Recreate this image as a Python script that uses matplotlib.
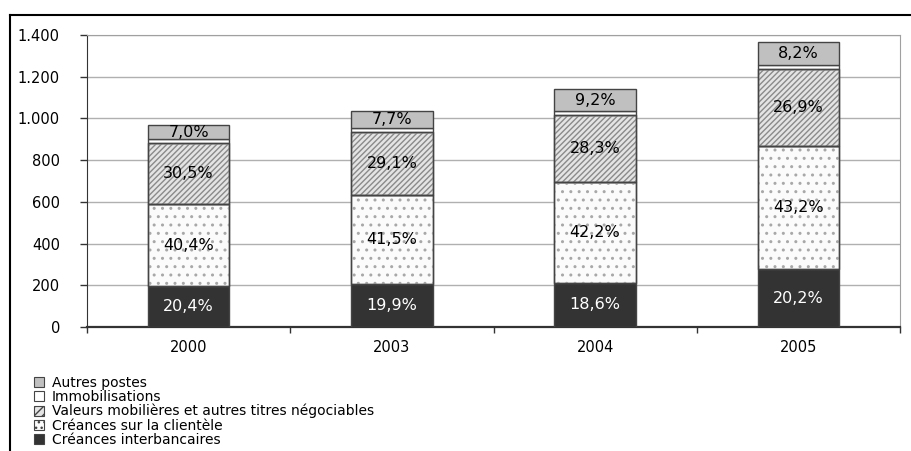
import matplotlib
matplotlib.use("Agg")
import matplotlib.pyplot as plt
from matplotlib.lines import Line2D
from matplotlib.patches import Rectangle
from matplotlib.ticker import FuncFormatter, FixedLocator
import numpy as np

plt.rcParams['font.family'] = ['DejaVu Sans']
plt.rcParams['hatch.linewidth'] = 1.0

years = ["2000", "2003", "2004", "2005"]
series = ["Créances interbancaires", "Créances sur la clientèle",
          "Valeurs mobilières et autres titres négociables",
          "Immobilisations", "Autres postes"]
interbancaires = [197, 206, 212, 276]
clientele = [391, 429, 481, 591]
valeurs = [295, 301, 323, 368]
immobilisations = [16, 19, 19, 21]
autres = [68, 80, 105, 112]

lbl_interbancaires = ["20,4%", "19,9%", "18,6%", "20,2%"]
lbl_clientele = ["40,4%", "41,5%", "42,2%", "43,2%"]
lbl_valeurs = ["30,5%", "29,1%", "28,3%", "26,9%"]
lbl_autres = ["7,0%", "7,7%", "9,2%", "8,2%"]

W, H = 912, 451
fig = plt.figure(figsize=(W / 100, H / 100), dpi=100)
ax = fig.add_axes([87 / W, 1 - 327 / H, (900 - 87) / W, (327 - 35) / H])

x = np.arange(len(years))
bw = 0.4
data = [interbancaires, clientele, valeurs, immobilisations, autres]
faces = ["#333333", "#fbfbfb", "#e4e4e4", "#ffffff", "#c0c0c0"]
hatches = [None, "..", "//////", None, None]
hcols = [None, "#a8a8a8", "#8a8a8a", None, None]
labels = [lbl_interbancaires, lbl_clientele, lbl_valeurs, None, lbl_autres]
tcols = ["white", "black", "black", None, "black"]

bottom = np.zeros(len(years))
handles = []
for vals, fc, ht, hc, lb, tc, name in zip(data, faces, hatches, hcols, labels, tcols, series):
    vals = np.array(vals, dtype=float)
    ax.bar(x, vals, bw, bottom=bottom, color=fc, edgecolor="#444444",
           linewidth=1.0, zorder=3)
    if ht:
        ax.bar(x, vals, bw, bottom=bottom, color="none", edgecolor=hc,
               hatch=ht, linewidth=0, zorder=3.5)
        ax.bar(x, vals, bw, bottom=bottom, color="none", edgecolor="#444444",
               linewidth=1.0, zorder=3.6)
    handles.append(Rectangle((0, 0), 1, 1, facecolor=fc, edgecolor="#444444",
                             hatch=("////" if ht == "//////" else ("..." if ht else None)),
                             linewidth=0.8))
    if lb:
        for xi, v, bt, t in zip(x, vals, bottom, lb):
            ax.text(xi, bt + v / 2, t, ha="center", va="center", color=tc,
                    fontsize=11.5, zorder=5)
    bottom = bottom + vals

ax.set_xlim(-0.5, len(years) - 0.5)
ax.set_ylim(0, 1400)
ax.yaxis.set_major_locator(FixedLocator(np.arange(0, 1401, 200)))
ax.yaxis.set_major_formatter(FuncFormatter(lambda v, p: f"{int(v):,}".replace(",", ".")))
ax.set_xticks(x)
ax.set_xticklabels(years)
ax.xaxis.set_minor_locator(FixedLocator(np.arange(-0.5, len(years), 1)))
ax.tick_params(axis="x", which="major", length=0, pad=9, labelsize=10.5)
ax.tick_params(axis="x", which="minor", length=4, width=1, color="#333333", direction="out")
ax.tick_params(axis="y", length=5, width=1, color="#333333", labelsize=10.5, pad=14.5)
ax.grid(axis="y", color="#b0b0b0", linewidth=1, zorder=0)
ax.set_axisbelow(True)
ax.spines["left"].set_color("#333333")
ax.spines["bottom"].set_color("#333333")
ax.spines["bottom"].set_linewidth(1.6)
ax.spines["top"].set_color("#a0a0a0")
ax.spines["right"].set_color("#a0a0a0")

# outer chart border
fig.add_artist(Line2D([10 / W, 1], [1 - 15 / H, 1 - 15 / H], color="black", lw=1.5,
                      transform=fig.transFigure))
fig.add_artist(Line2D([10 / W, 10 / W], [1 - 15 / H, 0], color="black", lw=1.5,
                      transform=fig.transFigure))

leg_h = handles[::-1]
leg_l = series[::-1]
fig.legend(leg_h, leg_l, loc="upper left", bbox_to_anchor=(34 / W, 1 - 376 / H),
           frameon=False, fontsize=10, handlelength=0.7, handleheight=0.7,
           handletextpad=0.6, labelspacing=0.0, borderpad=0, borderaxespad=0)

fig.savefig("out.png", dpi=100)
